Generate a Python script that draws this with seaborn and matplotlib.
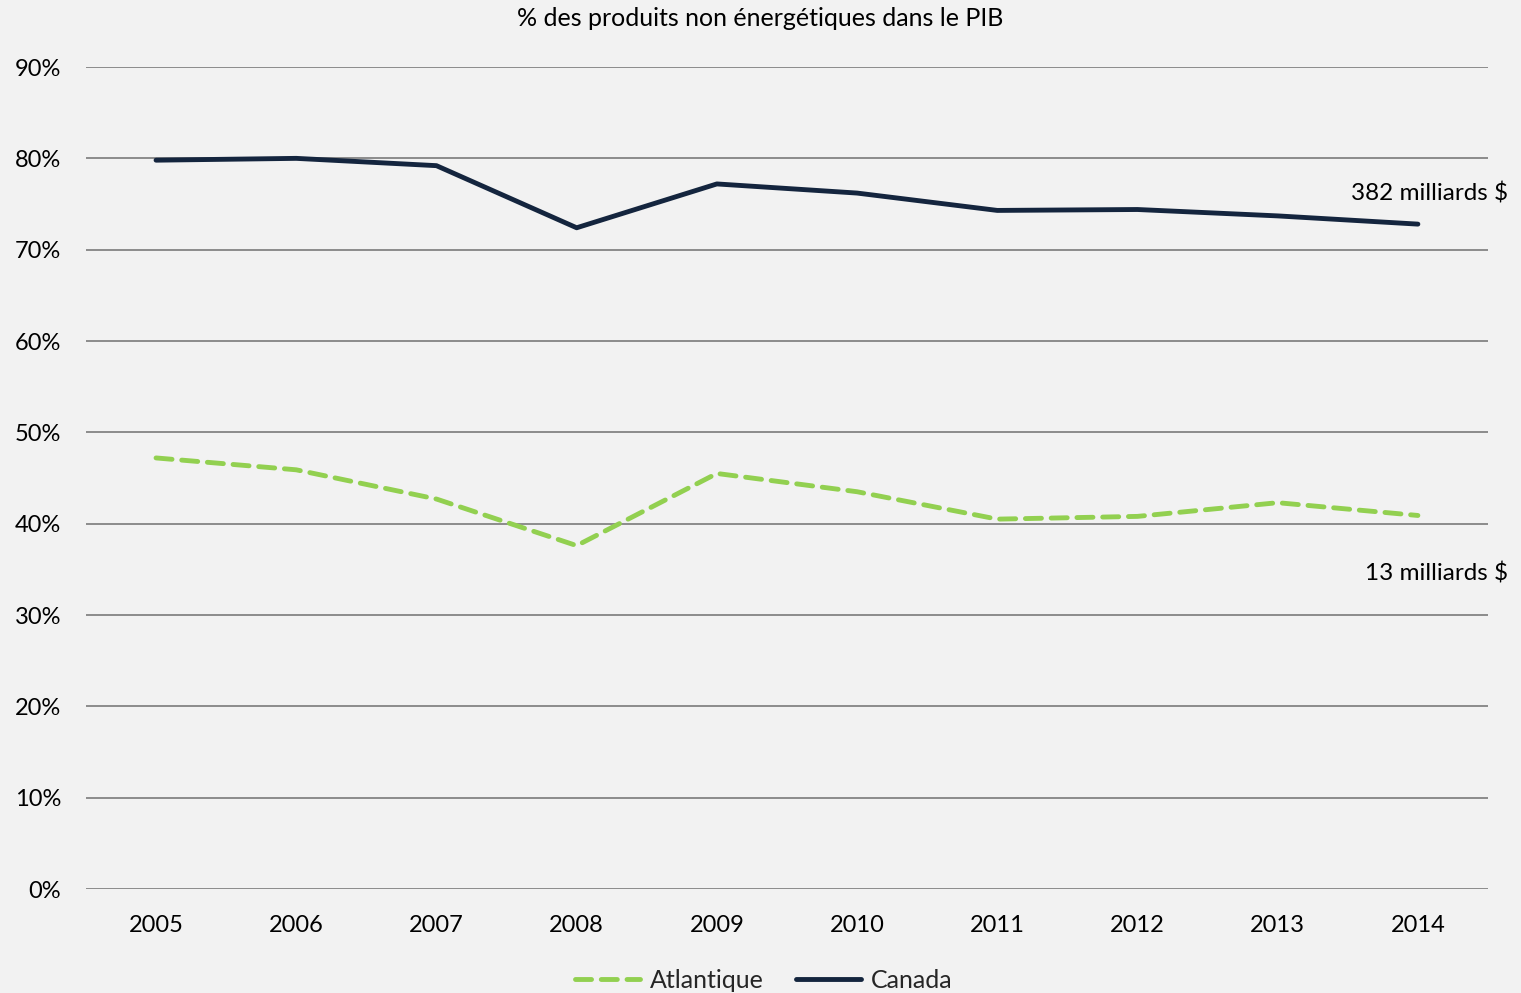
import matplotlib
matplotlib.use("Agg")
import matplotlib.pyplot as plt
import seaborn as sns
import pandas as pd
from matplotlib.ticker import PercentFormatter

years = ["2005", "2006", "2007", "2008", "2009", "2010", "2011", "2012", "2013", "2014"]
canada = [79.8, 80.0, 79.2, 72.4, 77.2, 76.2, 74.3, 74.4, 73.7, 72.8]
atlantique = [47.2, 45.9, 42.7, 37.6, 45.5, 43.5, 40.5, 40.8, 42.3, 40.9]
series_names = ["Atlantique", "Canada"]
end_labels = ["13 milliards $", "382 milliards $"]
title = "% des produits non énergétiques dans le PIB"

bg = "#F2F2F2"
green = "#92D050"
navy = "#14253E"

sns.set_theme(style="white")
plt.rcParams["font.family"] = ["Lato", "DejaVu Sans"]

df = pd.DataFrame({
    "year": years * 2,
    "pos": list(range(len(years))) * 2,
    "value": atlantique + canada,
    "serie": [series_names[0]] * len(years) + [series_names[1]] * len(years),
})

fig = plt.figure(figsize=(15.21, 9.93), dpi=100, facecolor=bg)
ax = fig.add_axes([0.0565, 0.1047, 0.9218, 0.8278])
ax.set_facecolor(bg)

sns.lineplot(data=df[df.serie == "Atlantique"], x="pos", y="value", ax=ax,
             color=green, linewidth=3.5, label="Atlantique",
             dashes=False, linestyle=(0, (3.3, 2.0)))
sns.lineplot(data=df[df.serie == "Canada"], x="pos", y="value", ax=ax,
             color=navy, linewidth=3.5, label="Canada")
for line in ax.get_lines():
    line.set_dash_capstyle("round")
    line.set_solid_capstyle("round")

ax.set_xlim(-0.5, len(years) - 0.5)
ax.set_ylim(0, 90)
ax.set_yticks(range(0, 91, 10))
ax.yaxis.set_major_formatter(PercentFormatter(decimals=0))
ax.set_xticks(range(len(years)))
ax.set_xticklabels(years)
ax.tick_params(axis="both", labelsize=17, colors="black", length=0)
ax.tick_params(axis="y", pad=18)
ax.tick_params(axis="x", pad=19)
ax.set_xlabel("")
ax.set_ylabel("")
ax.grid(axis="y", color="#8C8C8C", linewidth=1.4)
ax.set_axisbelow(True)
for s in ax.spines.values():
    s.set_visible(False)

ax.text(1.0145, 76.2, end_labels[1], transform=ax.get_yaxis_transform(),
        ha="right", va="center", fontsize=17.5, color="black")
ax.text(1.0145, 34.5, end_labels[0], transform=ax.get_yaxis_transform(),
        ha="right", va="center", fontsize=17.5, color="black")

fig.text(0.5, 0.981, title, ha="center", va="center", fontsize=18, color="black")

handles, labels = ax.get_legend_handles_labels()
ax.legend(handles, labels, loc="center", bbox_to_anchor=(0.502, 0.013),
          bbox_transform=fig.transFigure, ncol=2, frameon=False,
          fontsize=18, handlelength=2.6, columnspacing=1.3, handletextpad=0.4)

fig.savefig("out.png", dpi=100, facecolor=bg)
